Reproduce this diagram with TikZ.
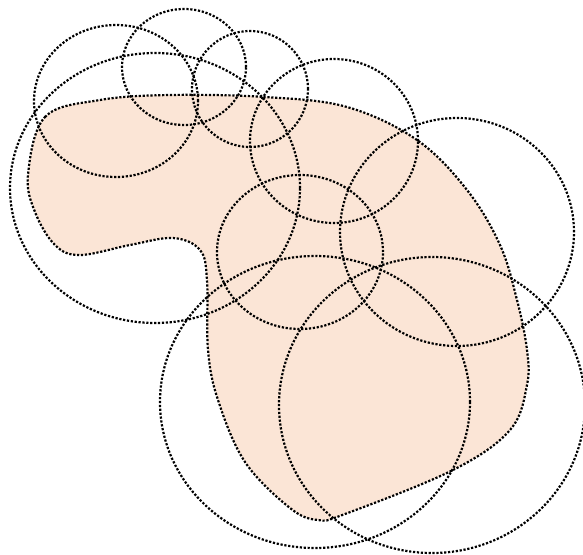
\documentclass[tikz,border=0pt]{standalone}
\definecolor{peach}{RGB}{251,229,214}
\tikzset{dots/.style={line width=2.2pt, dash pattern=on 2.2pt off 1.7pt, black}}
\begin{document}
\begin{tikzpicture}[x=1pt,y=-1pt]
\useasboundingbox (0,0) rectangle (583,554);
\def\blobpts{(28,175) (45,117) (100,100) (170,95) (265,97) (347,107) (417,140) (467,190)
 (500,245) (517,300) (527,350) (527,385) (510,430) (453,470) (345,514) (318,520)
 (290,508) (245,462) (218,400) (208,350) (207,280) (200,250) (173,238) (130,245)
 (80,255) (55,245) (35,212)}
% blob
\path[fill=peach] plot[smooth cycle, tension=0.6] coordinates {\blobpts};
\draw[dots] plot[smooth cycle, tension=0.6] coordinates {\blobpts};
% circles
\draw[dots] (116,101) ellipse [x radius=82pt, y radius=76pt];
\draw[dots] (184,67) ellipse [x radius=62pt, y radius=58pt];
\draw[dots] (250,89) ellipse [x radius=58pt, y radius=58pt];
\draw[dots] (155,188) ellipse [x radius=145pt, y radius=135pt];
\draw[dots] (334,141) ellipse [x radius=84pt, y radius=82pt];
\draw[dots] (300,252) ellipse [x radius=83pt, y radius=77pt];
\draw[dots] (457,232) ellipse [x radius=117pt, y radius=114pt];
\draw[dots] (315,402) ellipse [x radius=155pt, y radius=146pt];
\draw[dots] (432,405) ellipse [x radius=153pt, y radius=148pt];
\end{tikzpicture}
\end{document}
